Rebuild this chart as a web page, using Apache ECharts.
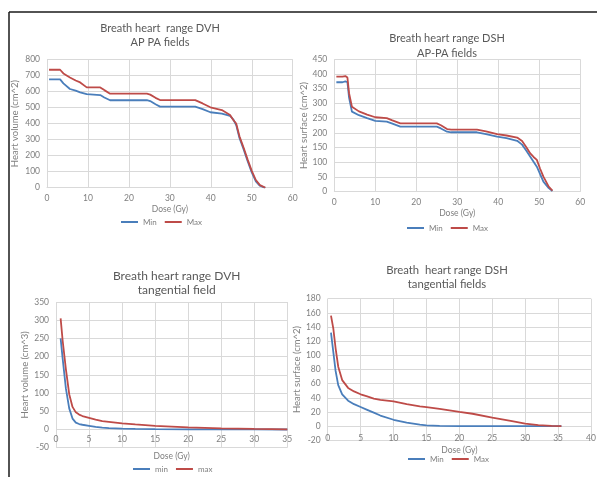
<!DOCTYPE html>
<html>
<head>
<meta charset="utf-8">
<script src="https://cdn.jsdelivr.net/npm/echarts@6/dist/echarts.min.js"></script>
<style>
html,body{margin:0;padding:0;background:#fff;}
#c{width:597px;height:477px;}
</style>
</head>
<body>
<div id="c"></div>
<script>
// ---- Chart 1: Breath heart range DVH, AP PA fields ----
const dvhApDose = [0.5, 3.2, 4, 5.6, 7, 8.1, 9.7, 13, 14, 15.4, 24.4, 25.2, 26.5, 27.6, 36.2, 38, 39.9, 42.7, 44.7, 45.5, 46.2, 47, 48, 49, 50, 51, 52, 53, 53.3];
const dvhApMin  = [675, 675, 650, 615, 605, 594, 583, 577, 562, 545, 545, 540, 520, 505, 505, 490, 470, 462, 448, 425, 390, 310, 240, 165, 95, 40, 12, 2, 0];
const dvhApMax  = [735, 735, 712, 687, 668, 656, 625, 625, 608, 586, 586, 580, 560, 546, 546, 525, 501, 484, 453, 422, 400, 320, 250, 175, 105, 48, 16, 4, 0];

// ---- Chart 2: Breath heart range DSH, AP-PA fields ----
const dshApDose = [0.5, 2, 2.7, 3.2, 3.6, 4.3, 6, 8, 10, 12.8, 14, 16.1, 25, 26, 27.5, 28.5, 34.8, 37, 39.7, 42, 44.6, 45.8, 46.8, 47.8, 48.6, 49.4, 50.2, 51, 52.3, 53.2];
const dshApMin  = [372, 372, 375, 372, 320, 272, 260, 250, 241, 238, 232, 221, 221, 215, 204, 202, 202, 196, 187, 182, 173, 160, 140, 119, 102, 85, 60, 34, 12, 2];
const dshApMax  = [391, 391, 393, 388, 335, 289, 273, 262, 253, 250, 243, 232, 232, 226, 213, 211, 211, 205, 196, 191, 184, 172, 152, 130, 118, 108, 78, 51, 17, 4];

// ---- Chart 3: Breath heart range DVH, tangential field ----
const dvhTgDose = [0.7, 1.0, 1.5, 2.0, 2.5, 3.0, 3.5, 4, 5, 6, 7, 8, 10, 12, 15, 20, 25, 30, 35];
const dvhTgMin  = [250, 196, 112, 58, 30, 19, 15, 13, 10, 7, 5, 4, 2.5, 1.5, 1, 0.5, 0.3, 0.2, 0];
const dvhTgMax  = [305, 245, 165, 97, 62, 47, 41, 37, 32, 27, 23, 21, 17, 14, 10, 6, 3, 1.5, 0.5];

// ---- Chart 4: Breath heart range DSH, tangential fields ----
const dshTgDose = [0.5, 0.85, 1.2, 1.6, 2.2, 3.1, 4, 5, 6, 7, 8, 10, 12, 14, 15, 17, 20, 22, 25, 28, 30, 32, 34, 35.5];
const dshTgMin  = [132, 105, 78, 58, 45, 36, 31, 27, 23, 19, 15, 9, 5, 2, 1, 0.5, 0, 0, 0, 0, 0, 0, 0, 0];
const dshTgMax  = [156, 138, 110, 84, 65, 54, 49, 45, 42, 39, 37, 35, 31, 28, 27, 24.5, 20, 17.5, 12, 7, 3.5, 1.5, 0.5, 0];

// ---- Text ----
const titles = [
  'Breath heart  range DVH\nAP PA fields',
  'Breath heart range DSH\nAP-PA fields',
  'Breath heart range DVH\ntangential field',
  'Breath  heart range DSH\ntangential fields'
];
const yNames = ['Heart volume (cm^2)', 'Heart surface (cm^2)', 'Heart volume (cm^3)', 'Heart surface (cm^2)'];
const xName = 'Dose (Gy)';
const seriesNames = [['Min', 'Max'], ['Min', 'Max'], ['min', 'max'], ['Min', 'Max']];

// axis ranges [min, max, interval]
const xRanges = [[0, 60, 10], [0, 60, 10], [0, 35, 5], [0, 40, 5]];
const yRanges = [[0, 800, 100], [0, 450, 50], [-50, 350, 50], [-20, 180, 20]];

// ---- Layout (pixels) ----
const grids = [
  {left: 47, top: 59.3, width: 245.7, height: 128.4},
  {left: 334.3, top: 59.3, width: 246, height: 132.4},
  {left: 56, top: 302, width: 231.3, height: 145.7},
  {left: 327.7, top: 298.7, width: 263.3, height: 141.6}
];
const titlePos = [
  {x: 160, top: 22, lh: 13.5, fs: 11},
  {x: 447, top: 31, lh: 15, fs: 11},
  {x: 176.7, top: 269, lh: 14.3, fs: 12},
  {x: 447, top: 263, lh: 14.2, fs: 11.3}
];
const legendPos = [
  {left: 121, top: 218},
  {left: 407, top: 224},
  {left: 133, top: 465},
  {left: 408, top: 455}
];
const yNameGap = [27, 21, 12, 19];
const xNameGap = [17, 17, 4, 5];
const xLabelMargin = [6, 6, -13, -7];

const FONT = 'Lato, "Open Sans", sans-serif';
const BLUE = '#4a7ebb';
const RED = '#be4b48';
const GRID = '#d9d9d9';
const LABEL = '#7f7f7f';

const doses = [dvhApDose, dshApDose, dvhTgDose, dshTgDose];
const mins = [dvhApMin, dshApMin, dvhTgMin, dshTgMin];
const maxs = [dvhApMax, dshApMax, dvhTgMax, dshTgMax];

const zip = (xs, ys) => xs.map((x, i) => [x, ys[i]]);

const option = {
  backgroundColor: '#fff',
  animation: false,
  textStyle: {fontFamily: FONT},
  title: titles.map((t, i) => ({
    text: t,
    left: titlePos[i].x,
    top: titlePos[i].top,
    textAlign: 'center',
    padding: 0,
    textStyle: {
      fontFamily: FONT, fontSize: titlePos[i].fs, fontWeight: 'normal',
      color: '#595959', lineHeight: titlePos[i].lh
    }
  })),
  legend: seriesNames.map((names, i) => ({
    data: names,
    left: legendPos[i].left,
    top: legendPos[i].top,
    orient: 'horizontal',
    padding: 0,
    icon: 'rect',
    itemWidth: 17,
    itemHeight: 2,
    itemGap: 8,
    selectedMode: false,
    textStyle: {fontFamily: FONT, fontSize: 8, color: LABEL}
  })),
  grid: grids.map(g => Object.assign({containLabel: false, outerBoundsMode: 'none'}, g)),
  xAxis: grids.map((g, i) => ({
    type: 'value',
    gridIndex: i,
    min: xRanges[i][0], max: xRanges[i][1], interval: xRanges[i][2],
    name: xName,
    nameLocation: 'middle',
    nameGap: xNameGap[i],
    nameTextStyle: {fontFamily: FONT, fontSize: 8.5, color: LABEL},
    axisLine: {show: i < 2, onZero: false, lineStyle: {color: GRID, width: 1}},
    axisTick: {show: false},
    axisLabel: {fontFamily: FONT, fontSize: 8.5, color: LABEL, margin: xLabelMargin[i]},
    splitLine: {show: true, lineStyle: {color: GRID, width: 1}}
  })),
  yAxis: grids.map((g, i) => ({
    type: 'value',
    gridIndex: i,
    min: yRanges[i][0], max: yRanges[i][1], interval: yRanges[i][2],
    name: yNames[i],
    nameLocation: 'middle',
    nameGap: yNameGap[i],
    nameTextStyle: {fontFamily: FONT, fontSize: 9.5, color: LABEL},
    axisLine: {show: false},
    axisTick: {show: false},
    axisLabel: {fontFamily: FONT, fontSize: 8.5, color: LABEL, margin: 7},
    splitLine: {show: true, lineStyle: {color: GRID, width: 1}}
  })),
  series: [].concat(...grids.map((g, i) => [
    {
      name: seriesNames[i][0], type: 'line', xAxisIndex: i, yAxisIndex: i,
      data: zip(doses[i], mins[i]), symbol: 'none', showSymbol: false,
      lineStyle: {color: BLUE, width: 1.8}, itemStyle: {color: BLUE}
    },
    {
      name: seriesNames[i][1], type: 'line', xAxisIndex: i, yAxisIndex: i,
      data: zip(doses[i], maxs[i]), symbol: 'none', showSymbol: false,
      lineStyle: {color: RED, width: 1.8}, itemStyle: {color: RED}
    }
  ])),
  graphic: [
    {type: 'line', shape: {x1: 9, y1: 12, x2: 597, y2: 12}, style: {stroke: '#1a1a1a', lineWidth: 1.5}, silent: true},
    {type: 'line', shape: {x1: 9, y1: 12, x2: 9, y2: 477}, style: {stroke: '#1a1a1a', lineWidth: 1.5}, silent: true}
  ]
};

const chart = echarts.init(document.getElementById('c'), null, {renderer: 'canvas'});
chart.setOption(option);
</script>
</body>
</html>
